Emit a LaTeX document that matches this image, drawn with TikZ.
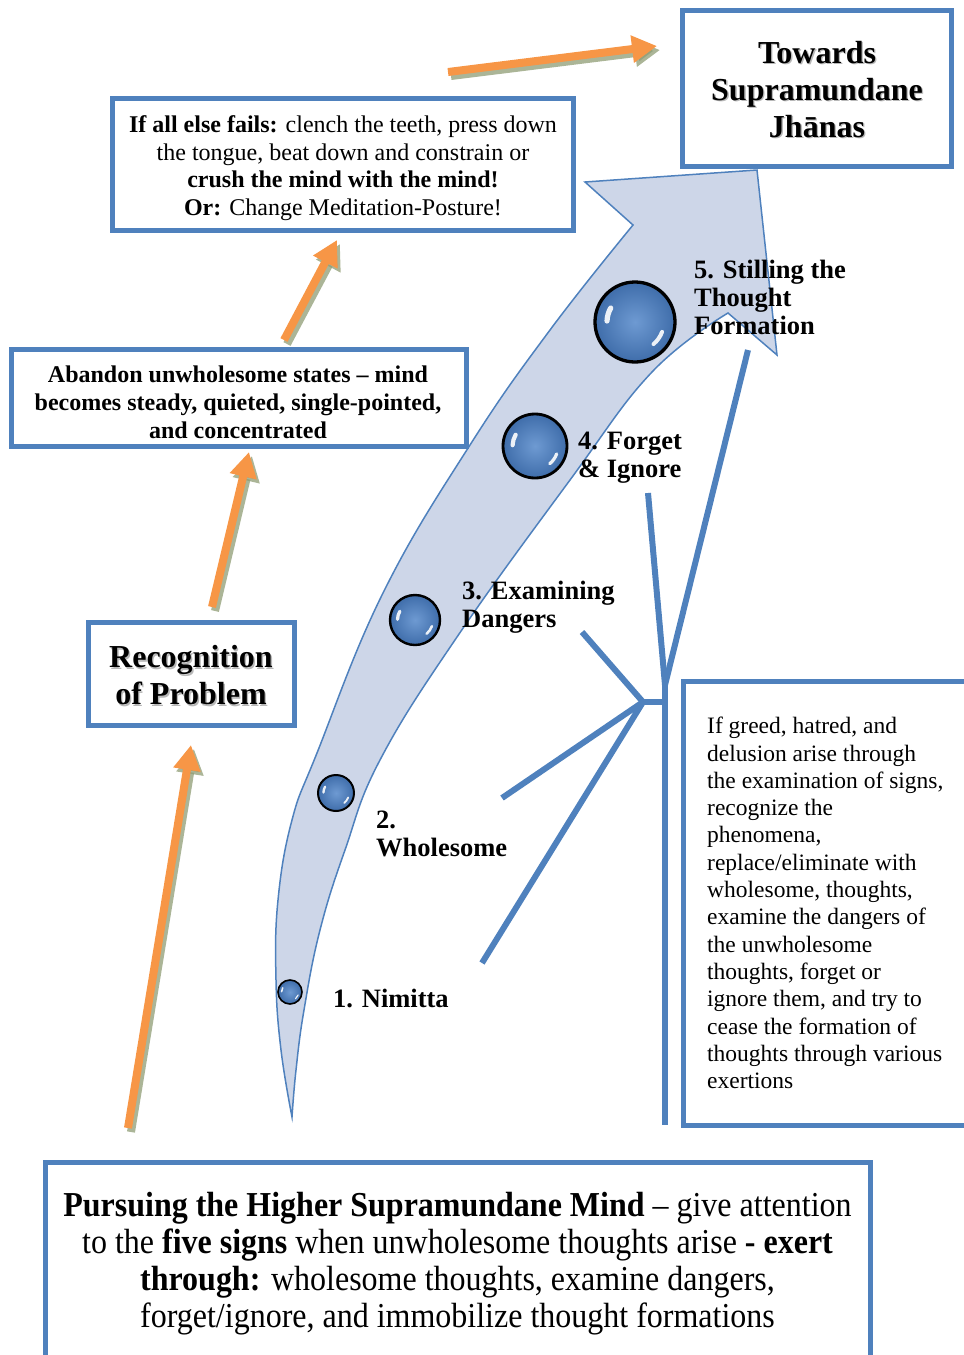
\documentclass[tikz,border=0pt]{standalone}
\usepackage{fontspec}
\setmainfont{Liberation Serif}
\usetikzlibrary{arrows.meta}
\definecolor{frameblue}{HTML}{4F81BD}
\definecolor{ribbonfill}{HTML}{CDD6E8}
\definecolor{arroworange}{HTML}{F79646}
\definecolor{arrowshadow}{HTML}{8F9C74}
\definecolor{bubbleinner}{HTML}{6E9AD2}
\definecolor{bubbleouter}{HTML}{3F6DAA}

% text with a soft drop shadow
\newcommand\shd[1]{\leavevmode\rlap{\kern1.4pt\raisebox{-1.4pt}{\textcolor{black!28}{#1}}}#1}

% glossy bubble: name, centre, radius
\newcommand\bubble[3]{%
  \node[bubblenode, minimum size=2*#3, line width=0.06*#3+0.9] (#1) at (#2) {};
  \begin{scope}[shift={(#2)}, y=1pt]
    \draw[white, line cap=round, line width=0.13*#3, opacity=0.9]
      (150:0.7*#3) arc[start angle=150, end angle=178, radius=0.7*#3];
    \draw[white, line cap=round, line width=0.1*#3, opacity=0.9]
      (-20:0.72*#3) arc[start angle=-20, end angle=-50, radius=0.72*#3];
  \end{scope}}

\begin{document}
\begin{tikzpicture}[x=1pt, y=-1pt,
  frame/.style={draw=frameblue, line width=5pt, fill=white, inner sep=0pt},
  boxtext/.style={inner sep=0pt, align=center},
  titletext/.style={boxtext, font=\fontsize{32}{37}\selectfont\bfseries},
  plaintext/.style={boxtext, font=\fontsize{24}{27.5}\selectfont},
  boldtext/.style={boxtext, font=\fontsize{24}{28}\selectfont\bfseries},
  steplabel/.style={font=\fontsize{26.5}{28}\selectfont\bfseries, align=left, inner sep=0pt},
  bubblenode/.style={circle, draw=black, inner sep=0pt, shade, inner color=bubbleinner, outer color=bubbleouter},
  ribbon/.style={draw=frameblue, line width=1.5pt, fill=ribbonfill, line join=miter},
  conn/.style={draw=frameblue, line width=6pt},
  oarrow/.style={draw=arroworange, line width=8pt, -{Triangle[length=25pt,width=26pt]}},
  oshadow/.style={oarrow, draw=arrowshadow, opacity=0.75},
]
\useasboundingbox (0,0) rectangle (964,1355);

% curved ribbon arrow rising to the upper right
\draw[ribbon]
  plot[smooth, tension=0.7] coordinates {(292,1117) (281,1050) (276,980) (278,900) (292,820) (317,753) (383,593) (470,445) (550,330) (633,225)}
  -- (585,182) -- (757,170) -- (777,355)
  -- plot[smooth, tension=0.7] coordinates {(728,313) (652,372) (570,480) (457,637) (380,760) (345,850) (320,930) (304,1010) (296,1070) (292,1117)}
  -- cycle;

% the five steps
\bubble{b1}{290,992}{12}
\bubble{b2}{336,793}{18}
\bubble{b3}{415,620}{25}
\bubble{b4}{535,446}{32}
\bubble{b5}{635,322}{40}

\node[steplabel, anchor=west] (s1) at (333,998) {1. Nimitta};
\node[steplabel, anchor=north west] (s2) at (376,810.5) {2.\\Wholesome};
\node[steplabel, anchor=north west] (s3) at (462,580.5) {3. Examining\\Dangers};
\node[steplabel, anchor=north west] (s4) at (578,431.5) {4. Forget\\\& Ignore};
\node[steplabel, anchor=north west] (s5) at (694,259.5) {5. Stilling the\\Thought\\Formation};

% bracket collecting the steps into the explanation box
\coordinate (hub) at (643,702);
\coordinate (join) at (665,702);
\coordinate (vtip) at (665,685);
\coordinate (vbot) at (665,1125);
\coordinate (t1) at (482,963);
\coordinate (t2) at (502,798);
\coordinate (t3) at (582,632);
\coordinate (t4) at (648,493);
\coordinate (t5) at (748,350);
\draw[conn] (t3) -- (hub);
\draw[conn] (t2) -- (hub);
\draw[conn] (t1) -- (hub);
\draw[conn] (hub) -- (join);
\draw[conn] (t4) -- (vtip);
\draw[conn] (t5) -- (vtip);
\draw[conn] (vtip) -- (vbot);

% boxes and their texts
\node[frame, minimum width=269, minimum height=156] (towards) at (816.5,88) {};
\node[titletext] (towardstext) at (817,90)
  {\shd{Towards}\\\shd{Supramundane}\\\shd{Jhānas}};

\node[frame, minimum width=461, minimum height=132] (fails) at (342.5,164) {};
\node[plaintext] (failstext) at (343,168)
  {\textbf{If all else fails:} clench the teeth, press down\\the tongue, beat down and constrain or\\\textbf{crush the mind with the mind!}\\\textbf{Or:} Change Meditation-Posture!};

\node[frame, minimum width=455, minimum height=97] (abandon) at (238.5,397.5) {};
\node[boldtext] (abandontext) at (238,402)
  {Abandon unwholesome states -- mind\\becomes steady, quieted, single-pointed,\\and concentrated};

\node[frame, minimum width=206, minimum height=103] (recog) at (191,673.5) {};
\node[titletext] (recogtext) at (191,676)
  {\shd{Recognition}\\\shd{of Problem}};

\node[frame, minimum width=293, minimum height=444] (detail) at (829.5,903) {};
\node[boxtext, align=left, anchor=north west, font=\fontsize{23.5}{27.3}\selectfont] (detailtext) at (707,717)
  {If greed, hatred, and\\delusion arise through\\the examination of signs,\\recognize the\\phenomena,\\replace/eliminate with\\wholesome, thoughts,\\examine the dangers of\\the unwholesome\\thoughts, forget or\\ignore them, and try to\\cease the formation of\\thoughts through various\\exertions};

\node[frame, minimum width=825, minimum height=199] (pursue) at (457.5,1261.5) {};
\node[boxtext, font=\fontsize{35}{37}\selectfont, xscale=0.914, transform shape] (pursuetext) at (457.5,1264)
  {\textbf{Pursuing the Higher Supramundane Mind} -- give attention\\to the \textbf{five signs} when unwholesome thoughts arise \textbf{- exert}\\\textbf{through:} wholesome thoughts, examine dangers,\\forget/ignore, and immobilize thought formations};

% orange progress arrows with their shadows
\coordinate (a1s) at (128,1128); \coordinate (a1e) at (191,745);
\coordinate (a2s) at (212,607);  \coordinate (a2e) at (249,452);
\coordinate (a3s) at (284,340);  \coordinate (a3e) at (337,240);
\coordinate (a4s) at (448,72);   \coordinate (a4e) at (657,46);
\foreach \s/\e in {a1s/a1e, a2s/a2e, a3s/a3e, a4s/a4e}{
  \draw[oshadow] ([shift={(3,4)}]\s) -- ([shift={(3,4)}]\e);
  \draw[oarrow] (\s) -- (\e);
}
\end{tikzpicture}
\end{document}
